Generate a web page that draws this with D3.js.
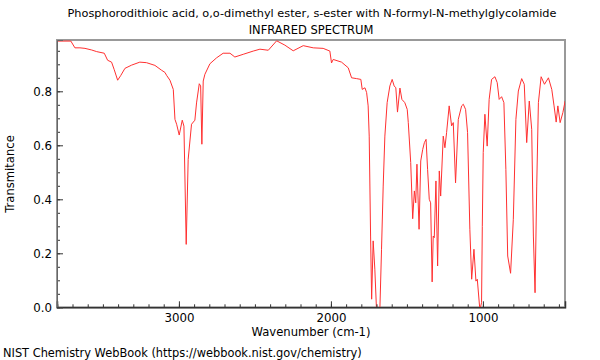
<!DOCTYPE html>
<html>
<head>
<meta charset="utf-8">
<script src="https://cdn.jsdelivr.net/npm/d3@7"></script>
<style>
  html, body { margin: 0; padding: 0; background: #fff; }
  svg { display: block; font-family: "DejaVu Sans", sans-serif; }
</style>
</head>
<body>
<svg id="chart" width="600" height="360"></svg>
<script>
const titleLines = ["Phosphorodithioic acid, o,o-dimethyl ester, s-ester with N-formyl-N-methylglycolamide", "INFRARED SPECTRUM"];
const xLabel = "Wavenumber (cm-1)";
const yLabel = "Transmitance";
const footer = "NIST Chemistry WebBook (https://webbook.nist.gov/chemistry)";

const wavenumber = [3803,3711,3684,3651,3618,3574,3541,3491,3469,3443,3426,3403,3382,3355,3311,3257,3213,3158,3114,3092,3081,3059,3037,3026,3015,2998,2978,2967,2952,2939,2917,2895,2884,2866,2857,2849,2840,2829,2796,2752,2709,2664,2632,2577,2511,2467,2412,2357,2303,2248,2182,2116,2051,2007,1996,1985,1930,1886,1864,1831,1803,1794,1776,1765,1755,1748,1739,1732,1722,1711,1700,1678,1667,1656,1645,1630,1612,1597,1584,1573,1562,1546,1533,1514,1498,1491,1475,1462,1451,1442,1434,1420,1409,1396,1385,1374,1364,1353,1344,1334,1327,1320,1309,1298,1287,1278,1261,1250,1239,1222,1206,1195,1180,1162,1140,1129,1114,1101,1086,1074,1059,1046,1037,1020,1009,1004,998,987,972,959,943,921,906,893,877,862,849,837,818,800,783,767,745,728,712,695,679,668,657,646,635,617,595,569,547,532,518,507,492,474,459];
const transmittance = [0.986,0.986,0.961,0.961,0.959,0.953,0.947,0.941,0.915,0.908,0.881,0.841,0.859,0.885,0.897,0.908,0.906,0.896,0.878,0.870,0.859,0.841,0.807,0.696,0.678,0.638,0.693,0.671,0.233,0.548,0.678,0.693,0.757,0.828,0.820,0.604,0.838,0.863,0.902,0.924,0.941,0.941,0.927,0.937,0.949,0.956,0.952,0.987,0.971,0.950,0.969,0.961,0.959,0.949,0.905,0.918,0.908,0.887,0.850,0.847,0.844,0.807,0.813,0.795,0.746,0.634,0.264,0.030,0.246,0.141,-0.01,-0.01,0.215,0.449,0.634,0.758,0.820,0.844,0.820,0.813,0.723,0.812,0.770,0.758,0.733,0.684,0.536,0.328,0.431,0.387,0.530,0.289,0.542,0.585,0.610,0.622,0.511,0.400,0.387,0.094,0.264,0.258,0.468,0.153,0.505,0.412,0.634,0.591,0.647,0.746,0.672,0.684,0.461,0.696,0.746,0.752,0.733,0.647,0.289,0.104,0.215,0.097,0.104,-0.01,0.017,0.300,0.573,0.715,0.597,0.770,0.844,0.854,0.832,0.770,0.780,0.758,0.511,0.190,0.126,0.326,0.696,0.801,0.847,0.826,0.610,0.764,0.659,0.264,0.054,0.449,0.758,0.854,0.826,0.850,0.807,0.746,0.686,0.746,0.684,0.721,0.764];

const xMajorTicks = [3000, 2000, 1000];
const xMinorTicks = d3.range(500, 3801, 100);
const yMajorTicks = [0, 0.2, 0.4, 0.6, 0.8];
const yMinorTicks = d3.range(0, 0.96, 0.05);

const W = 600, H = 360;
const m = {left: 57, right: 35, top: 40, bottom: 52.7};
const pw = W - m.left - m.right, ph = H - m.top - m.bottom;

const svg = d3.select("#chart");
const x = d3.scaleLinear().domain([3802, 460]).range([m.left, m.left + pw]);
const y = d3.scaleLinear().domain([0, 0.99]).range([m.top + ph, m.top]);

svg.append("defs").append("clipPath").attr("id", "clip")
  .append("rect").attr("x", m.left).attr("y", m.top).attr("width", pw).attr("height", ph);

// frame
svg.append("rect").attr("x", m.left).attr("y", m.top).attr("width", pw).attr("height", ph)
  .attr("fill", "none").attr("stroke", "#999").attr("stroke-width", 2);

// spectrum
const pts = wavenumber.map((w, i) => [w, transmittance[i]]);
svg.append("path").datum(pts)
  .attr("clip-path", "url(#clip)")
  .attr("fill", "none").attr("stroke", "#ff3030").attr("stroke-width", 1)
  .attr("stroke-linejoin", "round")
  .attr("d", d3.line().x(d => x(d[0])).y(d => y(d[1])));

// axes
const gx = svg.append("g").attr("transform", `translate(0,${m.top + ph})`);
gx.call(d3.axisBottom(x).tickValues(xMinorTicks).tickSize(-3).tickFormat(""))
  .call(g => g.select(".domain").remove());
gx.append("g").call(d3.axisBottom(x).tickValues(xMajorTicks).tickSize(-6).tickPadding(6).tickFormat(d3.format("d")))
  .call(g => g.select(".domain").attr("stroke", "#333").attr("stroke-width", 1.5));

const gy = svg.append("g").attr("transform", `translate(${m.left},0)`);
gy.call(d3.axisLeft(y).tickValues(yMinorTicks).tickSize(-3).tickFormat(""))
  .call(g => g.select(".domain").remove());
gy.append("g").call(d3.axisLeft(y).tickValues(yMajorTicks).tickSize(-6).tickPadding(5).tickFormat(d3.format(".1f")))
  .call(g => g.select(".domain").attr("stroke", "#666").attr("stroke-width", 1));
svg.selectAll("g.tick line").attr("stroke", "#333");
svg.selectAll("g.tick text").attr("font-size", 11.8).attr("fill", "#000").attr("font-family", "DejaVu Sans, sans-serif");

// titles
svg.append("text").attr("x", 312).attr("y", 17).attr("text-anchor", "middle")
  .attr("font-size", 11.3).text(titleLines[0]);
svg.append("text").attr("x", 311).attr("y", 34).attr("text-anchor", "middle")
  .attr("font-size", 11.5).text(titleLines[1]);
svg.append("text").attr("x", 311).attr("y", 336).attr("text-anchor", "middle")
  .attr("font-size", 11.6).text(xLabel);
svg.append("text").attr("transform", "translate(14,174) rotate(-90)").attr("text-anchor", "middle")
  .attr("font-size", 11.6).text(yLabel);
svg.append("text").attr("x", 3).attr("y", 357).attr("font-size", 11.4).text(footer);
</script>
</body>
</html>
